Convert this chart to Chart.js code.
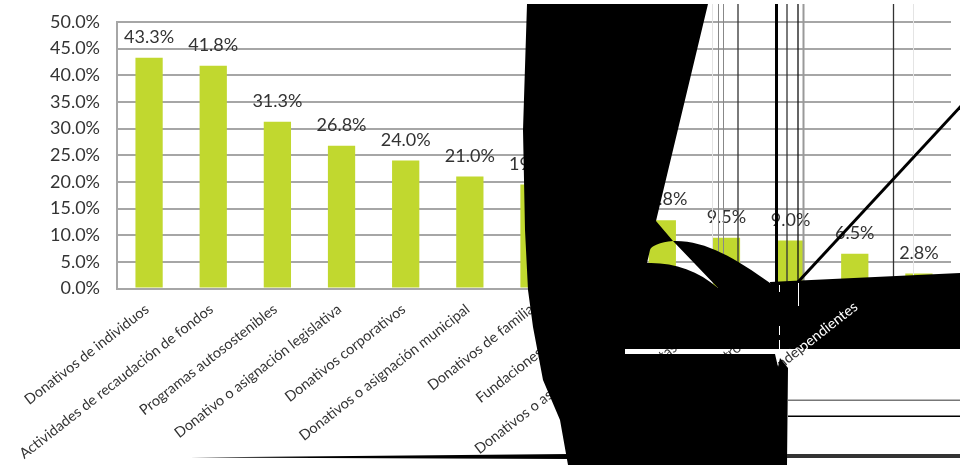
<!DOCTYPE html>
<html><head><meta charset="utf-8">
<style>html,body{margin:0;padding:0;background:#fff}canvas{display:block}</style>
<script src="https://cdn.jsdelivr.net/npm/chart.js@4"></script></head>
<body><div style="width:960px;height:465px"><canvas id="c"></canvas></div>
<script>
const categories = ["Donativos de individuos","Actividades de recaudación de fondos","Programas autosostenibles","Donativo o asignación legislativa","Donativos corporativos","Donativos o asignación municipal","Donativos de familia","Fundaciones nacionales","Donativos o asignación internacional","Cuotas de socios","Otros ingresos","Trabajadores independientes","Otros"];
const values = [43.3,41.8,31.3,26.8,24.0,21.0,19.5,15.0,12.8,9.5,9.0,6.5,2.8];
const yTicks = [0,5,10,15,20,25,30,35,40,45,50];
const FONT = "Lato";
const INK = "#333333";
const verticals = [[712.5,1,"#e4e4e4"],[718.5,1,"#888"],[723.5,1,"#888"],[738,1.3,"#333"],[776.5,3,"#000"],[787,1.3,"#333"],[798,1.3,"#111"],[803.5,2,"#999"],[893.5,1.3,"#333"],[913.5,1,"#e4e4e4"]];
const whiteDashes = [[779,285,292],[779,326,335],[779,340,349],[798,283,306]];
function poly(ctx,pts){ctx.beginPath();pts.forEach((p,i)=>i?ctx.lineTo(p[0],p[1]):ctx.moveTo(p[0],p[1]));ctx.closePath();ctx.fill();}
function drawDamage(ctx, chart){
  ctx.save();
  verticals.forEach(([x,w,col])=>{ctx.fillStyle=col;ctx.fillRect(x-w/2,4,w,285);});
  ctx.strokeStyle="#000";ctx.lineWidth=3;ctx.beginPath();ctx.moveTo(798,282);ctx.lineTo(962,105);ctx.stroke();
  ctx.fillStyle="#000";
  // main sheet
  ctx.beginPath();
  ctx.moveTo(527,4);ctx.lineTo(708,4);ctx.lineTo(656,221);ctx.lineTo(673,241);
  ctx.bezierCurveTo(660,242,651,246,650,250);ctx.lineTo(647,263);
  ctx.bezierCurveTo(672,262,698,270,718,288);
  ctx.lineTo(780,283);ctx.lineTo(780,349);
  ctx.lineTo(625,349);ctx.lineTo(625,354);ctx.lineTo(775,354);ctx.lineTo(778,367);ctx.lineTo(780,358);ctx.lineTo(788,368);
  ctx.lineTo(787,465);ctx.lineTo(568,465);
  ctx.lineTo(560,420);ctx.lineTo(543,380);ctx.lineTo(533,327);ctx.lineTo(528,290);ctx.lineTo(525,230);ctx.lineTo(523,130);
  ctx.closePath();ctx.fill();
  // lens over the bar
  ctx.beginPath();
  ctx.moveTo(673,241);ctx.bezierCurveTo(705,240,735,258,770,283);ctx.lineTo(770,290);ctx.lineTo(718,290);ctx.lineTo(718,288);ctx.closePath();ctx.fill();
  // right band
  const band=new Path2D();
  band.moveTo(770,282);band.lineTo(790,281);band.lineTo(960,273);band.lineTo(960,349);band.lineTo(776,349);band.closePath();
  ctx.fill(band);
  ctx.fillStyle="#fff";
  whiteDashes.forEach(([x,a,b])=>ctx.fillRect(x,a,1,b-a));
  // label seen through the band
  ctx.save();ctx.clip(band);
  ctx.translate(chart.scales.x.getPixelForValue(11)+1,305);ctx.rotate(-38*Math.PI/180);
  ctx.fillStyle="#fff";ctx.font="14.5px "+FONT;ctx.textAlign="right";ctx.textBaseline="middle";
  ctx.fillText(categories[11],0,0);ctx.restore();
  // horizontals
  ctx.fillStyle="#777";ctx.fillRect(788,399.5,172,1.5);
  ctx.fillStyle="#000";ctx.fillRect(788,415.5,172,1.5);
  ctx.fillStyle="#333";ctx.fillRect(787,454,173,4);
  ctx.fillStyle="#000";poly(ctx,[[190,457.5],[570,454],[570,459]]);
  ctx.restore();
}
const overlay={id:"overlay",afterDatasetsDraw(chart){
  const ctx=chart.ctx;
  ctx.save();ctx.fillStyle=INK;ctx.font="18px "+FONT;ctx.textAlign="center";ctx.textBaseline="alphabetic";
  chart.getDatasetMeta(0).data.forEach((b,i)=>ctx.fillText(values[i].toFixed(1)+"%",b.x,b.y-15));
  ctx.restore();
  drawDamage(ctx,chart);
}};
new Chart(document.getElementById("c"),{
  type:"bar",
  data:{labels:categories,datasets:[{data:values,backgroundColor:"#C1D82F",categoryPercentage:0.425,barPercentage:1}]},
  plugins:[overlay],
  options:{responsive:true,maintainAspectRatio:false,animation:false,
    layout:{padding:{top:22,right:9,left:0,bottom:0}},
    plugins:{legend:{display:false},tooltip:{enabled:false}},
    scales:{
      x:{grid:{display:false},border:{color:"#A6A6A6",width:2},
        afterFit(s){s.height=176.5;s.paddingLeft=0;s.paddingRight=0;},
        ticks:{maxRotation:38,minRotation:38,autoSkip:false,color:INK,font:{family:FONT,size:14.5},padding:4,labelOffset:-2}},
      y:{min:0,max:50,afterFit(s){s.width=117;s.paddingTop=0;s.paddingBottom=0;},
        grid:{color:"#A6A6A6",lineWidth:2,drawTicks:false},border:{color:"#A6A6A6",width:2},
        afterBuildTicks(s){s.ticks=yTicks.map(v=>({value:v}));},
        ticks:{color:INK,padding:17,font:{family:FONT,size:18},callback:v=>v.toFixed(1)+"%"}}
    }}
});
</script></body></html>
